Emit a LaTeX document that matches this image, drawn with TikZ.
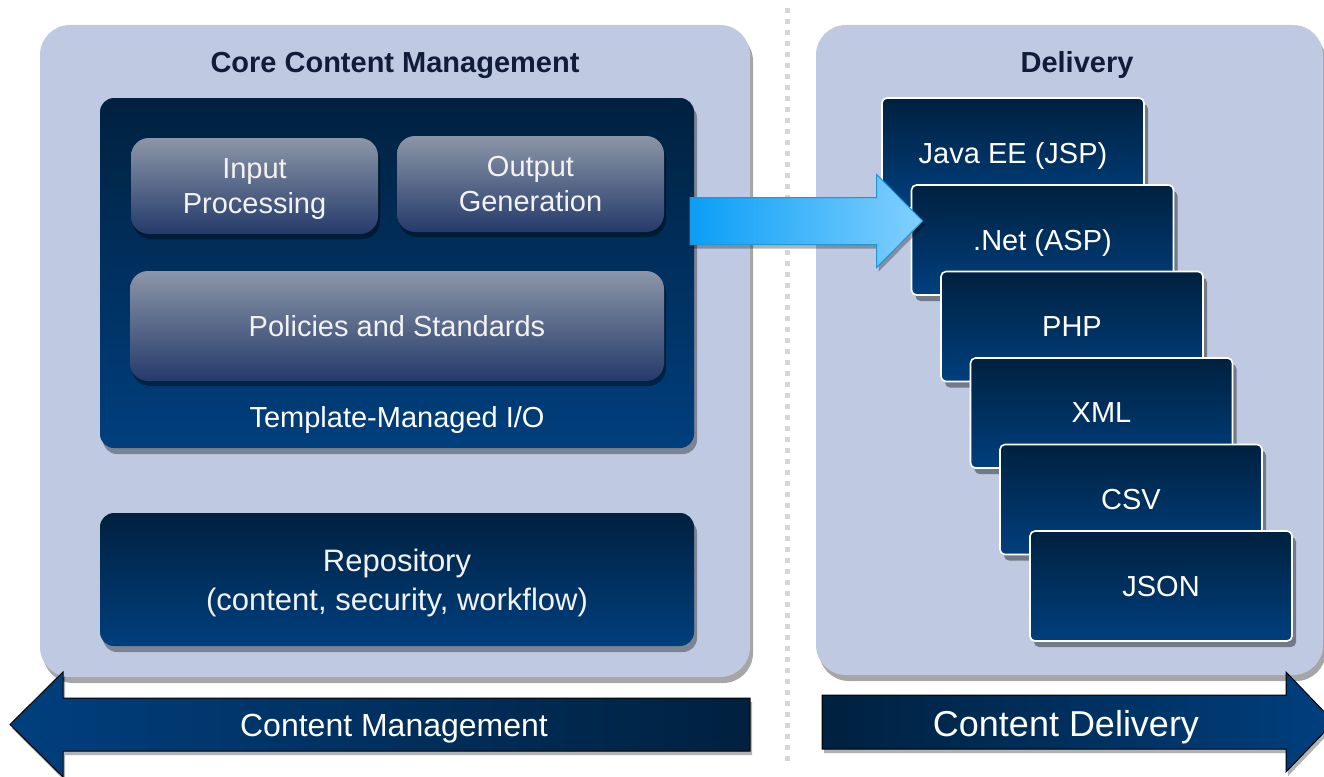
\documentclass[tikz,border=0pt]{standalone}
\usepackage{fontspec}
\setmainfont{Liberation Sans}
\usetikzlibrary{shadows,calc}
\definecolor{panelc}{RGB}{191,202,226}
\definecolor{navytop}{RGB}{0,33,63}
\definecolor{navybot}{RGB}{0,63,126}
\definecolor{greytop}{RGB}{140,150,168}
\definecolor{greybot}{RGB}{36,58,106}
\definecolor{titlec}{RGB}{16,28,58}
\definecolor{arrowl}{RGB}{10,158,245}
\definecolor{arrowr}{RGB}{130,208,255}
\definecolor{arrowline}{RGB}{30,150,220}
\definecolor{dotc}{RGB}{214,214,214}
\definecolor{textc}{RGB}{242,242,242}
\begin{document}
\begin{tikzpicture}[x=1pt,y=-1pt,
  panel/.style={fill=panelc, rounded corners=30pt, inner sep=0pt,
    drop shadow={shadow xshift=3pt, shadow yshift=-6pt, opacity=0.35, fill=black}},
  navybox/.style={top color=navytop, bottom color=navybot, rounded corners=14pt, inner sep=0pt,
    text=textc, align=center, font=\fontsize{29}{35}\selectfont, text depth=0pt,
    drop shadow={shadow xshift=3pt, shadow yshift=-6pt, opacity=0.35, fill=black}},
  greybox/.style={top color=greytop, bottom color=greybot, rounded corners=18pt, inner sep=0pt,
    text=textc, align=center, font=\fontsize{29}{35}\selectfont, text depth=0pt,
    drop shadow={shadow xshift=2pt, shadow yshift=-5pt, opacity=0.4, fill=black}},
  card/.style={top color=navytop, bottom color=navybot, draw=white, line width=1.6pt,
    rounded corners=5pt, inner sep=0pt, minimum width=262pt, minimum height=110pt,
    text=white, font=\fontsize{29}{35}\selectfont, text depth=0pt,
    drop shadow={shadow xshift=4pt, shadow yshift=-6pt, opacity=0.4, fill=black}},
  paneltitle/.style={text=titlec, font=\fontsize{29}{35}\selectfont\bfseries, inner sep=0pt, text depth=0pt},
  plainlabel/.style={text=white, font=\fontsize{29}{35}\selectfont, inner sep=0pt, text depth=0pt},
  bigarrow/.style={draw=black, line width=1pt,
    drop shadow={shadow xshift=2pt, shadow yshift=-4pt, opacity=0.3, fill=black}},
  bluearrow/.style={left color=arrowl, right color=arrowr, draw=arrowline, line width=1pt,
    drop shadow={shadow xshift=2pt, shadow yshift=-4pt, opacity=0.3, fill=black}},
  divider/.style={dotc, line width=5pt, dash pattern=on 5pt off 6pt}
]
\useasboundingbox (0,0) rectangle (1324,776);
\fill[white] (0,0) rectangle (1324,776);

% panels
\node[panel, minimum width=710pt, minimum height=652pt] (lp) at (395,351) {};
\node[panel, minimum width=507pt, minimum height=650pt] (rp) at (1069.5,350) {};
\node[paneltitle] (lt) at (395,62) {Core Content Management};
\node[paneltitle] (rt) at (1077,62) {Delivery};

% divider
\coordinate (d1) at (787,8);
\coordinate (d2) at (787,762);
\draw[divider] (d1) -- (d2);

% core content management
\node[navybox, minimum width=594pt, minimum height=350pt] (tio) at (397,273) {};
\node[greybox, minimum width=247pt, minimum height=96pt] (inp) at (254.5,186) {Input\\Processing};
\node[greybox, minimum width=267pt, minimum height=96pt] (outp) at (530.5,184) {Output\\Generation};
\node[greybox, minimum width=534pt, minimum height=110pt] (pol) at (397,326) {Policies and Standards};
\node[plainlabel] (tlab) at (397,417) {Template-Managed I/O};
\node[navybox, minimum width=594pt, minimum height=133pt, font=\fontsize{31}{39}\selectfont] (repo) at (397,579.5) {Repository\\(content, security, workflow)};

% delivery cards
\node[card] (java) at (1013,153) {Java EE (JSP)};
\node[card] (net) at (1042.5,240) {.Net (ASP)};
\node[card] (php) at (1072,326.5) {PHP};
\node[card] (xml) at (1101.5,413) {XML};
\node[card] (csv) at (1131,499.5) {CSV};
\node[card] (json) at (1161,586) {JSON};

% blue arrow from tio to net
\coordinate (ba1) at ($(tio.east)+(-4,-52)$);
\coordinate (ba2) at ($(net.west)+(12,-19)$);
\path[bluearrow] ($(ba1)+(0,-23.5)$) -- ($(ba2)+(-46,-23.5)$) -- ($(ba2)+(-46,-46.5)$) -- (ba2)
  -- ($(ba2)+(-46,46.5)$) -- ($(ba2)+(-46,23.5)$) -- ($(ba1)+(0,23.5)$) -- cycle;

% bottom arrows
\coordinate (cm1) at (750,724.5);
\coordinate (cm2) at (10,724.5);
\path[bigarrow, left color=navybot, right color=navytop]
  ($(cm1)+(0,-26.5)$) -- ($(cm2)+(53,-26.5)$) -- ($(cm2)+(53,-52.5)$) -- (cm2)
  -- ($(cm2)+(53,52.5)$) -- ($(cm2)+(53,26.5)$) -- ($(cm1)+(0,26.5)$) -- cycle;
\node[text=white, font=\fontsize{32}{38}\selectfont, inner sep=0pt, text depth=0pt] (cml) at (394,725) {Content Management};

\coordinate (cd1) at (822,722);
\coordinate (cd2) at (1334,722);
\path[bigarrow, left color=navytop, right color=navybot]
  ($(cd1)+(0,-27)$) -- ($(cd2)+(-48,-27)$) -- ($(cd2)+(-48,-50)$) -- (cd2)
  -- ($(cd2)+(-48,50)$) -- ($(cd2)+(-48,27)$) -- ($(cd1)+(0,27)$) -- cycle;
\node[text=white, font=\fontsize{36}{42}\selectfont, inner sep=0pt, text depth=0pt] (cdl) at (1066,723) {Content Delivery};
\end{tikzpicture}
\end{document}
